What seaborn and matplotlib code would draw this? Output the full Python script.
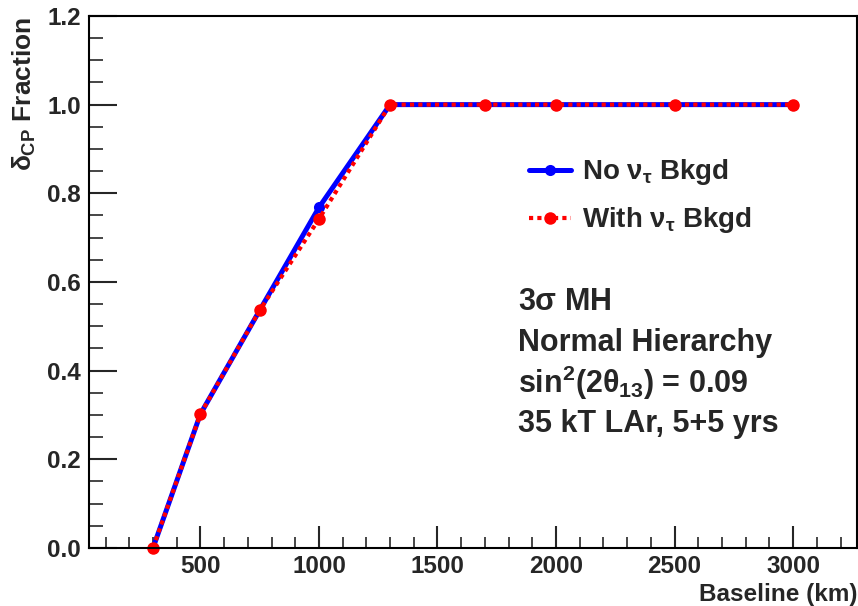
import matplotlib
matplotlib.use("Agg")
import matplotlib.pyplot as plt
import seaborn as sns
import pandas as pd
from matplotlib.ticker import MultipleLocator

baseline_km = [300, 500, 750, 1000, 1300, 1700, 2000, 2500, 3000]
frac_no_nutau = [0.0, 0.302, 0.536, 0.768, 1.0, 1.0, 1.0, 1.0, 1.0]
frac_with_nutau = [0.0, 0.302, 0.536, 0.742, 1.0, 1.0, 1.0, 1.0, 1.0]
label_no = r"No $\nu_\tau$ Bkgd"
label_with = r"With $\nu_\tau$ Bkgd"
info_lines = [r"3$\sigma$ MH", "Normal Hierarchy",
              r"sin$^2$(2$\theta_{13}$) = 0.09", "35 kT LAr, 5+5 yrs"]

sns.set_theme(style="white")
plt.rcParams['font.family'] = ['Liberation Sans', 'DejaVu Sans']
plt.rcParams['font.weight'] = 'bold'
plt.rcParams['mathtext.fontset'] = 'custom'
plt.rcParams['mathtext.rm'] = 'Liberation Sans:bold'
plt.rcParams['mathtext.it'] = 'Liberation Sans:bold'
plt.rcParams['mathtext.bf'] = 'Liberation Sans:bold'

df_no = pd.DataFrame({"x": baseline_km, "y": frac_no_nutau})
df_with = pd.DataFrame({"x": baseline_km, "y": frac_with_nutau})

fig = plt.figure(figsize=(8.58, 6.06), dpi=100)
ax = fig.add_axes([0.1037, 0.0957, 0.8953, 0.878])

sns.lineplot(data=df_no, x="x", y="y", ax=ax, color="#0000ff", lw=3.6,
             marker="o", markersize=8, markeredgewidth=0, label=label_no,
             clip_on=False)
sns.lineplot(data=df_with, x="x", y="y", ax=ax, color="#ff0000", lw=3.0,
             linestyle=(0, (1, 1)), marker="o", markersize=9,
             markeredgewidth=0, label=label_with, clip_on=False)

ax.set_xlim(30, 3270)
ax.set_ylim(0, 1.2)
ax.xaxis.set_major_locator(MultipleLocator(500))
ax.xaxis.set_minor_locator(MultipleLocator(100))
ax.yaxis.set_major_locator(MultipleLocator(0.2))
ax.yaxis.set_minor_locator(MultipleLocator(0.05))
ax.set_xticks([500, 1000, 1500, 2000, 2500, 3000])
ax.yaxis.set_major_formatter(matplotlib.ticker.FormatStrFormatter('%.1f'))
ax.tick_params(axis='x', which='major', direction='in', length=16, width=1.5,
               labelsize=17.5, pad=5, bottom=True)
ax.tick_params(axis='x', which='minor', direction='in', length=8, width=1.2, bottom=True)
ax.tick_params(axis='y', which='major', direction='in', length=20, width=1.5,
               labelsize=17.5, pad=6, left=True)
ax.tick_params(axis='y', which='minor', direction='in', length=10, width=1.2, left=True)
for s in ax.spines.values():
    s.set_color('black')
    s.set_linewidth(1.5)

ax.set_xlabel("Baseline (km)", fontsize=17.5, fontweight='bold', ha='right', x=1.0)
ax.set_ylabel(r"$\delta_{CP}$ Fraction", fontsize=19, fontweight='bold', ha='right', y=1.0)
ax.xaxis.set_label_coords(1.0, -0.065)
ax.yaxis.set_label_coords(-0.066, 0.998)

leg = ax.legend(loc='center left', bbox_to_anchor=(0.573, 0.661), frameon=False,
                fontsize=20, handlelength=1.5, labelspacing=0.65, handletextpad=0.4,
                borderpad=0, borderaxespad=0)
for t in leg.get_texts():
    t.set_fontweight('bold')

y0 = 0.462
for i, line in enumerate(info_lines):
    ax.text(0.558, y0 - i * 0.076, line, transform=ax.transAxes, fontsize=22,
            fontweight='bold', va='center', ha='left')

fig.savefig("out.png", dpi=100)
